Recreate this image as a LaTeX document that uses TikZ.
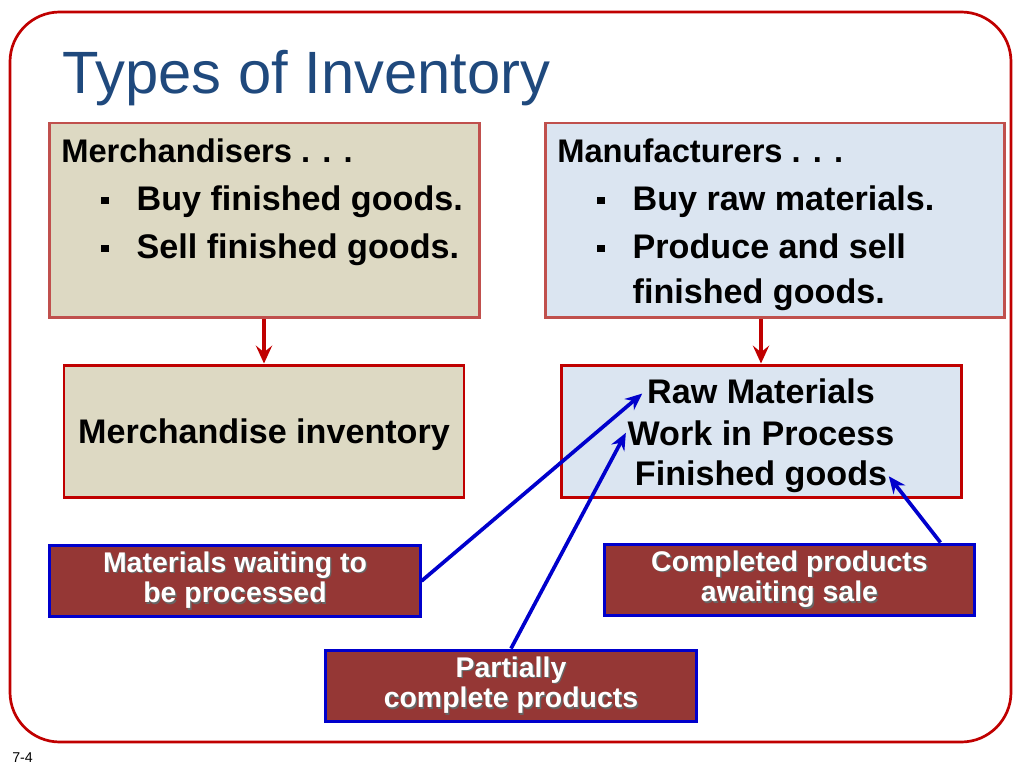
\documentclass[tikz,border=0pt]{standalone}
\usepackage{fontspec}
\setmainfont{Liberation Sans}
\usetikzlibrary{arrows.meta}
\definecolor{framered}{HTML}{C00000}
\definecolor{boxred}{HTML}{C0504D}
\definecolor{tanfill}{HTML}{DDD9C3}
\definecolor{paleblue}{HTML}{DBE5F1}
\definecolor{tagfill}{HTML}{953735}
\definecolor{titleblue}{HTML}{1F497D}
\definecolor{tagblue}{HTML}{0000CC}
\newcommand{\sqitem}{\makebox[53pt][l]{\hspace*{28pt}\rule[4.6pt]{5.2pt}{5.2pt}}}
\newcommand{\sqcont}{\hspace*{53pt}}
\newcommand{\shd}[1]{\makebox[0pt][l]{\hspace*{1pt}\raisebox{-1pt}{\color{black!60}#1}}#1}

\begin{document}
\begin{tikzpicture}[
  x=0.703125pt, y=-0.703125pt,
  font=\bfseries,
  frame/.style={draw=framered, line width=1.9pt, rounded corners=35pt},
  topbox/.style={draw=boxred, line width=2.1pt, inner sep=0pt, minimum height=137.1pt},
  invbox/.style={draw=framered, line width=2.1pt, inner sep=0pt, minimum width=281.25pt, minimum height=93.5pt},
  tagbox/.style={draw=tagblue, fill=tagfill, line width=2.1pt, text=white, align=center, minimum width=260.2pt, minimum height=50.6pt, inner sep=0pt, font=\bfseries\fontsize{20}{21.5}\selectfont},
  itemtext/.style={anchor=north west, inner sep=0pt, align=left, font=\bfseries\fontsize{24}{31}\selectfont},
  invline/.style={anchor=base, inner sep=1pt, font=\bfseries\fontsize{24}{29}\selectfont},
  redarrow/.style={-{Stealth[length=4.4mm, width=4mm, inset=1.6mm]}, draw=framered, line width=2.2pt},
  bluearrow/.style={-{Stealth[length=4.2mm, width=3.6mm]}, draw=tagblue, line width=2.6pt}
]
\useasboundingbox (0,0) rectangle (1024,768);
\draw[frame] (10,12) rectangle (1011,742);

\node[anchor=base west, inner sep=0pt, text=titleblue, font=\fontsize{42}{48}\selectfont] (title) at (62,94) {Types of Inventory};

\node[topbox, fill=tanfill, minimum width=303pt] (merch) at (264.5,220.5) {};
\node[itemtext] (merchtxt) at (61,139) {{\fontsize{23}{31}\selectfont Merchandisers . . .}\\[2.75pt]\sqitem Buy finished goods.\\[2.75pt]\sqitem Sell finished goods.};

\node[topbox, fill=paleblue, minimum width=323.4pt] (manuf) at (775,220.5) {};
\node[itemtext] (manuftxt) at (557,139) {{\fontsize{23}{31}\selectfont Manufacturers . . .}\\[2.75pt]\sqitem Buy raw materials.\\[2.75pt]\sqitem Produce and sell\\\sqcont finished goods.};

\node[invbox, fill=tanfill, text depth=0pt, font=\bfseries\fontsize{24}{29}\selectfont] (merchinv) at (264,431.5) {Merchandise inventory};
\node[invbox, fill=paleblue] (rawbox) at (761,431.5) {};
\node[invline] (rawmat) at (761,403) {Raw Materials};
\node[invline] (wip) at (761,445) {Work in Process};
\node[invline] (fingoods) at (761,485) {Finished goods};

\node[tagbox] (waiting) at (235,581) {\shd{Materials waiting to}\\\shd{be processed}};
\node[tagbox] (completed) at (789.5,580) {\shd{Completed products}\\\shd{awaiting sale}};
\node[tagbox] (partial) at (511,686) {\shd{Partially}\\\shd{complete products}};

\draw[redarrow] (merchinv.north |- merch.south) -- (merchinv.north);
\draw[redarrow] (rawbox.north |- manuf.south) -- (rawbox.north);

\draw[bluearrow, shorten >=3pt] (waiting.east) -- (rawmat.west);
\draw[bluearrow] (partial.north) -- (wip.west);
\draw[bluearrow] ([xshift=-25pt]completed.north east) -- (fingoods.east);

\node[anchor=base west, inner sep=0pt, font=\fontsize{10}{12}\selectfont] (pagenum) at (12,762) {7-4};
\end{tikzpicture}
\end{document}
